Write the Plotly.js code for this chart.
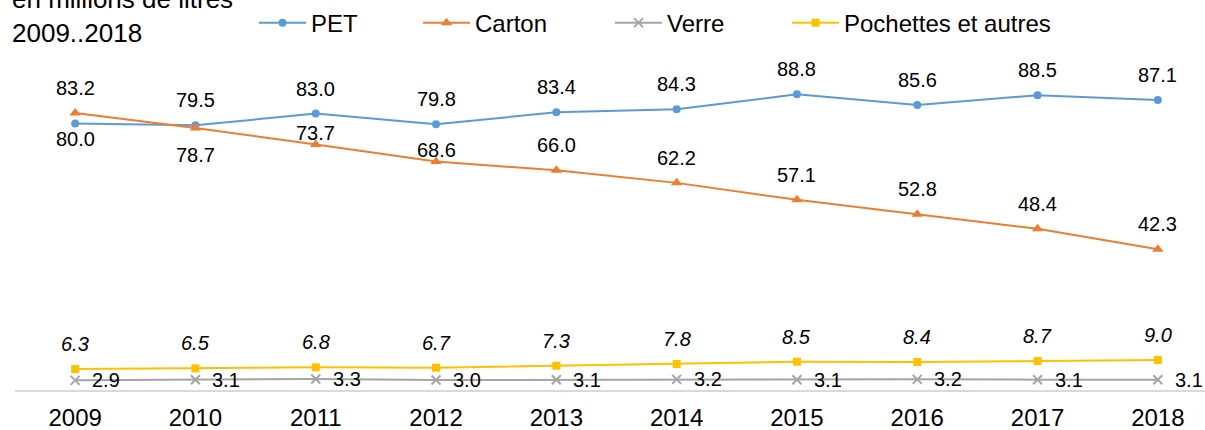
<!DOCTYPE html>
<html>
<head>
<meta charset="utf-8">
<script src="https://cdn.plot.ly/plotly-3.0.1.min.js"></script>
<style>
  html, body { margin: 0; padding: 0; background: #fff; }
  #chart { width: 1205px; height: 430px; }
</style>
</head>
<body>
<div id="chart"></div>
<script>
var years = ['2009', '2010', '2011', '2012', '2013', '2014', '2015', '2016', '2017', '2018'];
var pet = [80.0, 79.5, 83.0, 79.8, 83.4, 84.3, 88.8, 85.6, 88.5, 87.1];
var carton = [83.2, 78.7, 73.7, 68.6, 66.0, 62.2, 57.1, 52.8, 48.4, 42.3];
var verre = [2.9, 3.1, 3.3, 3.0, 3.1, 3.2, 3.1, 3.2, 3.1, 3.1];
var pochettes = [6.3, 6.5, 6.8, 6.7, 7.3, 7.8, 8.5, 8.4, 8.7, 9.0];

var FONT = 'Liberation Sans, Arial, sans-serif';

// which labels sit under the point, or close above it, instead of the usual spot
var labelBelow = { PET: ['2009'], Carton: ['2010'] };
var labelClose = { Carton: ['2011', '2012'] };

var series = [
  { name: 'PET', y: pet, color: '#5B9BD5', symbol: 'circle', size: 8, legend: 'legend' },
  { name: 'Carton', y: carton, color: '#ED7D31', symbol: 'triangle-up', size: 10, legend: 'legend2' },
  { name: 'Verre', y: verre, color: '#A5A5A5', symbol: 'x-thin', size: 9, legend: 'legend3' },
  { name: 'Pochettes et autres', y: pochettes, color: '#FFC000', symbol: 'square', size: 8, legend: 'legend4' }
];

var data = series.map(function (s) {
  return {
    x: years,
    y: s.y,
    name: s.name,
    type: 'scatter',
    mode: 'lines+markers',
    legend: s.legend,
    line: { color: s.color, width: 2 },
    marker: {
      color: s.color,
      symbol: s.symbol,
      size: s.size,
      line: { color: s.color, width: s.symbol === 'x-thin' ? 2 : 0 }
    },
    hoverinfo: 'x+y+name'
  };
});

var annotations = [];
series.forEach(function (s) {
  s.y.forEach(function (v, i) {
    var yr = years[i];
    // category axis: annotation x is the category's index
    var a = {
      x: i, y: v, xref: 'x', yref: 'y',
      text: v.toFixed(1),
      showarrow: false,
      font: { family: FONT, size: 20, color: '#000' }
    };
    if (s.name === 'Verre') {
      a.xanchor = 'left';
      a.xshift = 15;
    } else {
      a.yshift = 25;
      if ((labelBelow[s.name] || []).indexOf(yr) >= 0) a.yshift = (s.name === 'PET') ? -15 : -27;
      if ((labelClose[s.name] || []).indexOf(yr) >= 0) a.yshift = 12;
      if (s.name === 'Pochettes et autres') a.font.style = 'italic';
    }
    annotations.push(a);
  });
});

annotations.push({
  xref: 'paper', yref: 'paper',
  x: -0.0042, y: 1.021,
  xanchor: 'left', yanchor: 'bottom',
  align: 'left',
  text: 'en millions de litres<br>2009..2018',
  showarrow: false,
  font: { family: FONT, size: 26, color: '#000' }
});

function legendAt(px) {
  return {
    orientation: 'h',
    x: (px - 15) / 1190,
    xanchor: 'left',
    y: 1.102,
    yanchor: 'middle',
    itemwidth: 47,
    bgcolor: 'rgba(0,0,0,0)',
    font: { family: FONT, size: 24, color: '#000' }
  };
}

var layout = {
  width: 1205,
  height: 430,
  margin: { l: 15, r: 0, t: 57, b: 40, autoexpand: false },
  paper_bgcolor: '#fff',
  plot_bgcolor: '#fff',
  showlegend: true,
  legend: legendAt(254),
  legend2: legendAt(418),
  legend3: legendAt(610),
  legend4: legendAt(787),
  xaxis: {
    type: 'category',
    range: [-0.5, 9.392],
    showgrid: false,
    zeroline: false,
    showline: true,
    linecolor: '#D9D9D9',
    linewidth: 1.5,
    ticks: '',
    ticklabelstandoff: 6,
    tickfont: { family: FONT, size: 24, color: '#000' }
  },
  yaxis: {
    range: [0, 100],
    visible: false,
    showgrid: false,
    zeroline: false
  },
  annotations: annotations
};

Plotly.newPlot('chart', data, layout, { displayModeBar: false, staticPlot: true });
</script>
</body>
</html>
